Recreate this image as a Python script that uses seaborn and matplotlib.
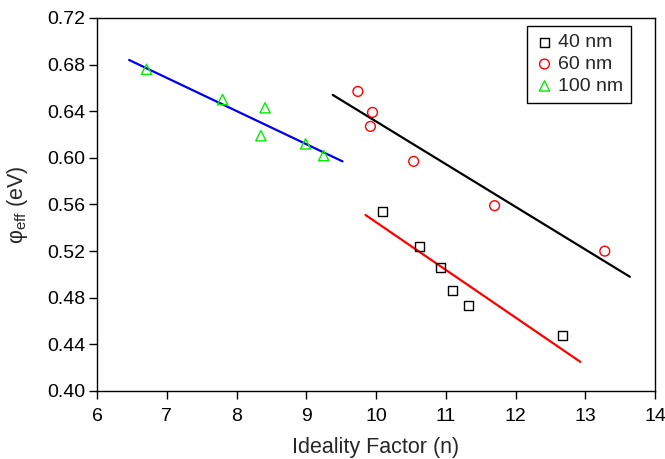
import matplotlib
matplotlib.use("Agg")
import matplotlib.pyplot as plt
import seaborn as sns

# Measured barrier heights vs. ideality factor for three film thicknesses
n_40 = [10.10, 10.63, 10.92, 11.10, 11.32, 12.67]
phi_40 = [0.554, 0.524, 0.506, 0.486, 0.473, 0.448]

n_60 = [9.74, 9.95, 9.92, 10.54, 11.70, 13.28]
phi_60 = [0.657, 0.639, 0.627, 0.597, 0.559, 0.520]

n_100 = [6.71, 7.80, 8.41, 8.35, 8.99, 9.25]
phi_100 = [0.676, 0.650, 0.643, 0.619, 0.612, 0.602]

# Linear fit lines (end points)
fit_black_x = [9.38, 13.64]
fit_black_y = [0.654, 0.498]
fit_red_x = [9.85, 12.93]
fit_red_y = [0.551, 0.425]
fit_blue_x = [6.46, 9.52]
fit_blue_y = [0.684, 0.597]

x_ticks = [6, 7, 8, 9, 10, 11, 12, 13, 14]
y_ticks = [0.40, 0.44, 0.48, 0.52, 0.56, 0.60, 0.64, 0.68, 0.72]

sns.set_theme(style="ticks")
plt.rcParams["font.family"] = ["Liberation Sans", "DejaVu Sans"]
plt.rcParams["mathtext.fontset"] = "custom"
plt.rcParams["mathtext.rm"] = "Liberation Sans"
plt.rcParams["mathtext.it"] = "Liberation Sans"

fig = plt.figure(figsize=(6.65, 4.59), dpi=100)
ax = fig.add_axes([97 / 665, 68 / 459, 558 / 665, 373 / 459])

series = [
    ("40 nm", n_40, phi_40, "s", "black", 42),
    ("60 nm", n_60, phi_60, "o", "red", 50),
    ("100 nm", n_100, phi_100, "^", "#00ee00", 55),
]
for label, xs, ys, mk, col, size in series:
    sns.scatterplot(x=xs, y=ys, marker=mk, s=size, facecolor="none",
                    edgecolor=col, linewidth=1.0, label=label, ax=ax,
                    zorder=3)

for xs, ys, col in [(fit_black_x, fit_black_y, "black"),
                    (fit_red_x, fit_red_y, "#ff0000"),
                    (fit_blue_x, fit_blue_y, "#0000ee")]:
    sns.lineplot(x=xs, y=ys, color=col, linewidth=1.6, ax=ax,
                 legend=False, zorder=2)

ax.set_xlim(6, 14)
ax.set_ylim(0.40, 0.72)
ax.set_xticks(x_ticks)
ax.set_yticks(y_ticks)
ax.set_xticklabels([str(t) for t in x_ticks])
ax.set_yticklabels([f"{t:.2f}" for t in y_ticks])
ax.tick_params(axis="both", direction="out", length=6, width=1,
               labelsize=14, colors="black", top=False, right=False)
ax.tick_params(axis="y", pad=2.5)
ax.tick_params(axis="x", pad=6)
for sp in ax.spines.values():
    sp.set_visible(True)
    sp.set_color("black")
    sp.set_linewidth(1.0)

ax.set_xlabel("Ideality Factor (n)", fontsize=15.5, labelpad=9)
ax.set_ylabel(r"φ$_{\mathrm{eff}}$ (eV)", fontsize=15.5, labelpad=12)

leg = ax.legend(loc="upper right", bbox_to_anchor=(0.957, 0.979),
                frameon=True, fancybox=False, shadow=False, fontsize=14,
                handletextpad=0.2, handlelength=1.0, borderpad=0.4,
                labelspacing=0.22, borderaxespad=0.0)
leg.get_frame().set_edgecolor("black")
leg.get_frame().set_linewidth(1.0)
leg.get_frame().set_alpha(1.0)

fig.savefig("out.png", dpi=100, facecolor="white")
